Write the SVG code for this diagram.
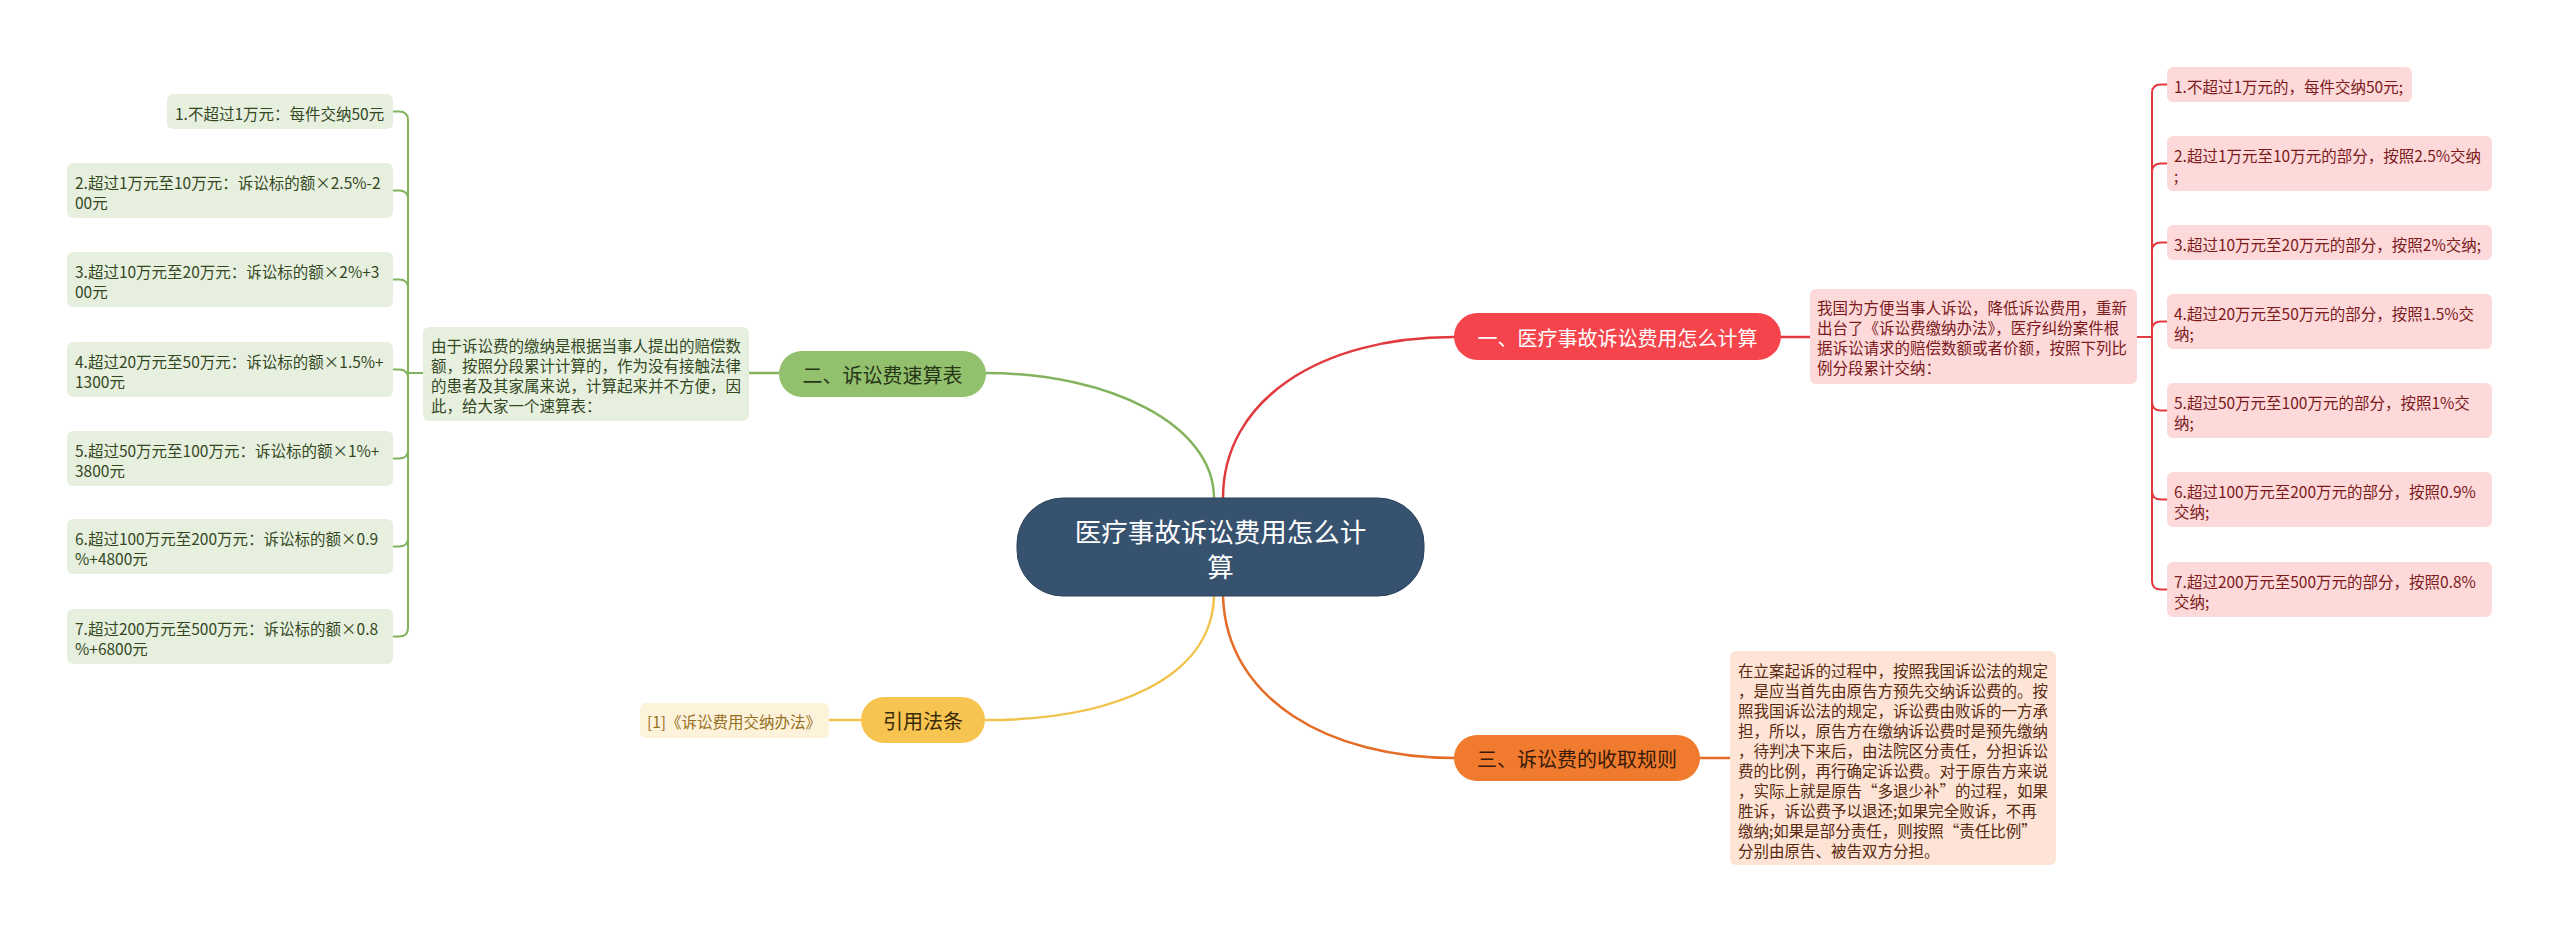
<svg xmlns="http://www.w3.org/2000/svg" width="2560" height="933" viewBox="0 0 2560 933">
<style>
text{font-family:"Noto Sans CJK SC","Noto Sans",sans-serif;dominant-baseline:central}
.sm{font-size:15.5px}
.mid{font-size:20px;text-anchor:middle}
.gl{fill:#e7f0df}.gt{fill:#34481f}
.rl{fill:#fdd9da}.rt{fill:#7c1a1c}
.ol{fill:#fde4d6}.ot{fill:#5a2a10}
.yl{fill:#fdf2da}.yt{fill:#94701f}
.c{fill:none;stroke-linecap:round}
.cg{stroke:#84b35e;stroke-width:2.5}
.cr{stroke:#e0393e;stroke-width:2.5}
.co{stroke:#e56c26;stroke-width:2.5}
.cy{stroke:#f1c24c;stroke-width:2.5}
</style>
<rect width="2560" height="933" fill="#ffffff"/>
<g id="connectors">
<path class="c cg" d="M1214,498 C1214,425 1110,373 986,373"/>
<path class="c cr" d="M1223,498 C1223,400 1320,337 1454,337"/>
<path class="c cy" d="M1214,596 C1212,680 1110,720 986,720"/>
<path class="c co" d="M1223,596 C1226,700 1330,758 1454,758"/>
<path class="c cg" d="M779,373 H749"/>
<path class="c cr" d="M1781,337 H1810"/>
<path class="c co" d="M1700,758 H1730"/>
<path class="c cy" d="M861,720 H829"/>
<g class="c cg" style="stroke-width:2">
<path d="M423,373 H408"/>
<path d="M408,373 V120 Q408,111.5 399,111.5 H393"/>
<path d="M408,373 V199 Q408,190.5 399,190.5 H393"/>
<path d="M408,373 V288 Q408,279.5 399,279.5 H393"/>
<path d="M408,373 V378 Q408,369.5 399,369.5 H393"/>
<path d="M408,373 V450 Q408,458.5 399,458.5 H393"/>
<path d="M408,373 V538 Q408,546.5 399,546.5 H393"/>
<path d="M408,373 V628 Q408,636.5 399,636.5 H393"/>
</g>
<g class="c cr" style="stroke-width:2">
<path d="M2137,337 H2152"/>
<path d="M2152,337 V93 Q2152,84.5 2161,84.5 H2167"/>
<path d="M2152,337 V172 Q2152,163.5 2161,163.5 H2167"/>
<path d="M2152,337 V251 Q2152,242.5 2161,242.5 H2167"/>
<path d="M2152,337 V330 Q2152,321.5 2161,321.5 H2167"/>
<path d="M2152,337 V402 Q2152,410.5 2161,410.5 H2167"/>
<path d="M2152,337 V491 Q2152,499.5 2161,499.5 H2167"/>
<path d="M2152,337 V581 Q2152,589.5 2161,589.5 H2167"/>
</g>
</g>
<g id="central">
<rect x="1017" y="498" width="407" height="98" rx="46" fill="#37526f" stroke="#2c435c" stroke-width="1"/>
<text x="1220.5" y="530" style="font-size:26.5px;text-anchor:middle" fill="#ffffff">医疗事故诉讼费用怎么计</text>
<text x="1220.5" y="565" style="font-size:26.5px;text-anchor:middle" fill="#ffffff">算</text>
</g>
<g id="n1">
<rect x="1454" y="313" width="327" height="47" rx="23.5" fill="#f5444b"/>
<text class="mid" x="1617.5" y="337" fill="#ffffff">一、医疗事故诉讼费用怎么计算</text>
</g>
<g id="n2">
<rect x="779" y="351" width="207" height="46" rx="23" fill="#93c06c"/>
<text class="mid" x="882.5" y="374" fill="#263619">二、诉讼费速算表</text>
</g>
<g id="n3">
<rect x="1454" y="735" width="246" height="46" rx="23" fill="#f07a2e"/>
<text class="mid" x="1577" y="758" fill="#3a1a08">三、诉讼费的收取规则</text>
</g>
<g id="n4">
<rect x="861" y="697" width="124" height="46" rx="23" fill="#f7c451"/>
<text class="mid" x="923" y="720" fill="#3a2a08">引用法条</text>
</g>
<g id="yleaf">
<rect class="yl" x="640" y="703" width="189" height="35" rx="6"/>
<text class="sm yt" x="647" y="721">[1]《诉讼费用交纳办法》</text>
</g>
<g id="gtext">
<rect class="gl" x="423" y="327" width="326" height="94" rx="6"/>
<text class="sm gt" x="431" y="345">由于诉讼费的缴纳是根据当事人提出的赔偿数</text>
<text class="sm gt" x="431" y="365">额，按照分段累计计算的，作为没有接触法律</text>
<text class="sm gt" x="431" y="385">的患者及其家属来说，计算起来并不方便，因</text>
<text class="sm gt" x="431" y="405">此，给大家一个速算表：</text>
</g>
<g id="g1">
<rect class="gl" x="167" y="94" width="226" height="35" rx="6"/>
<text class="sm gt" x="175" y="112.5">1.不超过1万元：每件交纳50元</text>
</g>
<g id="g2">
<rect class="gl" x="67" y="163" width="326" height="55" rx="6"/>
<text class="sm gt" x="75" y="182">2.超过1万元至10万元：诉讼标的额×2.5%-2</text>
<text class="sm gt" x="75" y="202">00元</text>
</g>
<g id="g3">
<rect class="gl" x="67" y="252" width="326" height="55" rx="6"/>
<text class="sm gt" x="75" y="271">3.超过10万元至20万元：诉讼标的额×2%+3</text>
<text class="sm gt" x="75" y="291">00元</text>
</g>
<g id="g4">
<rect class="gl" x="67" y="342" width="326" height="55" rx="6"/>
<text class="sm gt" x="75" y="361">4.超过20万元至50万元：诉讼标的额×1.5%+</text>
<text class="sm gt" x="75" y="381">1300元</text>
</g>
<g id="g5">
<rect class="gl" x="67" y="431" width="326" height="55" rx="6"/>
<text class="sm gt" x="75" y="450">5.超过50万元至100万元：诉讼标的额×1%+</text>
<text class="sm gt" x="75" y="470">3800元</text>
</g>
<g id="g6">
<rect class="gl" x="67" y="519" width="326" height="55" rx="6"/>
<text class="sm gt" x="75" y="538">6.超过100万元至200万元：诉讼标的额×0.9</text>
<text class="sm gt" x="75" y="558">%+4800元</text>
</g>
<g id="g7">
<rect class="gl" x="67" y="609" width="326" height="55" rx="6"/>
<text class="sm gt" x="75" y="628">7.超过200万元至500万元：诉讼标的额×0.8</text>
<text class="sm gt" x="75" y="648">%+6800元</text>
</g>
<g id="rtext">
<rect class="rl" x="1810" y="289" width="327" height="95" rx="6"/>
<text class="sm rt" x="1817" y="307">我国为方便当事人诉讼，降低诉讼费用，重新</text>
<text class="sm rt" x="1817" y="327">出台了《诉讼费缴纳办法》，医疗纠纷案件根</text>
<text class="sm rt" x="1817" y="347">据诉讼请求的赔偿数额或者价额，按照下列比</text>
<text class="sm rt" x="1817" y="367">例分段累计交纳：</text>
</g>
<g id="r1">
<rect class="rl" x="2167" y="67" width="245" height="35" rx="6"/>
<text class="sm rt" x="2174" y="85.5">1.不超过1万元的，每件交纳50元;</text>
</g>
<g id="r2">
<rect class="rl" x="2167" y="136" width="325" height="55" rx="6"/>
<text class="sm rt" x="2174" y="155">2.超过1万元至10万元的部分，按照2.5%交纳</text>
<text class="sm rt" x="2174" y="175">;</text>
</g>
<g id="r3">
<rect class="rl" x="2167" y="225" width="325" height="35" rx="6"/>
<text class="sm rt" x="2174" y="243.5">3.超过10万元至20万元的部分，按照2%交纳;</text>
</g>
<g id="r4">
<rect class="rl" x="2167" y="294" width="325" height="55" rx="6"/>
<text class="sm rt" x="2174" y="313">4.超过20万元至50万元的部分，按照1.5%交</text>
<text class="sm rt" x="2174" y="333">纳;</text>
</g>
<g id="r5">
<rect class="rl" x="2167" y="383" width="325" height="55" rx="6"/>
<text class="sm rt" x="2174" y="402">5.超过50万元至100万元的部分，按照1%交</text>
<text class="sm rt" x="2174" y="422">纳;</text>
</g>
<g id="r6">
<rect class="rl" x="2167" y="472" width="325" height="55" rx="6"/>
<text class="sm rt" x="2174" y="491">6.超过100万元至200万元的部分，按照0.9%</text>
<text class="sm rt" x="2174" y="511">交纳;</text>
</g>
<g id="r7">
<rect class="rl" x="2167" y="562" width="325" height="55" rx="6"/>
<text class="sm rt" x="2174" y="581">7.超过200万元至500万元的部分，按照0.8%</text>
<text class="sm rt" x="2174" y="601">交纳;</text>
</g>
<g id="otext">
<rect class="ol" x="1730" y="651" width="326" height="214" rx="6"/>
<text class="sm ot" x="1738" y="670">在立案起诉的过程中，按照我国诉讼法的规定</text>
<text class="sm ot" x="1738" y="690">，是应当首先由原告方预先交纳诉讼费的。按</text>
<text class="sm ot" x="1738" y="710">照我国诉讼法的规定，诉讼费由败诉的一方承</text>
<text class="sm ot" x="1738" y="730">担，所以，原告方在缴纳诉讼费时是预先缴纳</text>
<text class="sm ot" x="1738" y="750">，待判决下来后，由法院区分责任，分担诉讼</text>
<text class="sm ot" x="1738" y="770">费的比例，再行确定诉讼费。对于原告方来说</text>
<text class="sm ot" x="1738" y="790">，实际上就是原告“多退少补”的过程，如果</text>
<text class="sm ot" x="1738" y="810">胜诉，诉讼费予以退还;如果完全败诉，不再</text>
<text class="sm ot" x="1738" y="830">缴纳;如果是部分责任，则按照“责任比例”</text>
<text class="sm ot" x="1738" y="850">分别由原告、被告双方分担。</text>
</g>
</svg>
